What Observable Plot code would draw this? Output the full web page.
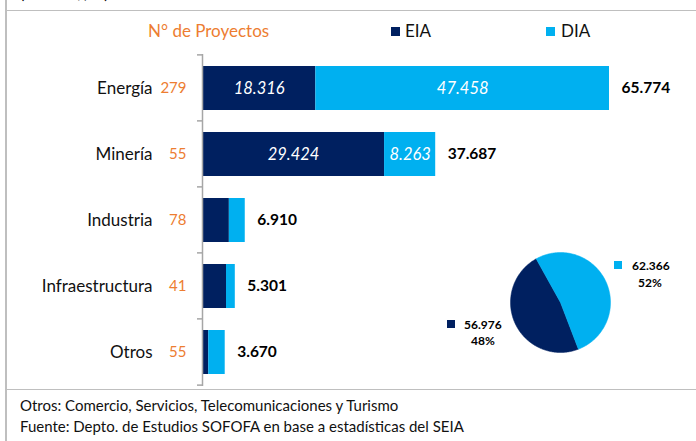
<!DOCTYPE html>
<html><head><meta charset="utf-8">
<script src="https://cdn.jsdelivr.net/npm/d3@7"></script>
<script src="https://cdn.jsdelivr.net/npm/@observablehq/plot@0.6"></script>
<style>
body{margin:0;background:#fff;}
#wrap{position:relative;width:696px;height:441px;overflow:hidden;font-family:Lato,sans-serif;background:#fff;color:#000;}
.abs{position:absolute;white-space:nowrap;}
.line{position:absolute;background:#bfbfbf;}
</style></head><body><div id="wrap"></div>
<script>
const categories = ["Energía", "Minería", "Industria", "Infraestructura", "Otros"];
const projectCounts = [279, 55, 78, 41, 55];
const eiaValues = [18316, 29424, 4340, 3880, 1016];
const diaValues = [47458, 8263, 2570, 1421, 2654];
const totalValues = [65774, 37687, 6910, 5301, 3670];
const seriesNames = ["EIA", "DIA"];
const pieValues = [56976, 62366];
const piePercents = ["48%", "52%"];
const labeledCategories = ["Energía", "Minería"];
const countLabel = "N° de Proyectos";
const unitLabel = "(MMUS$, %)";
const footnotes = ["Otros:  Comercio, Servicios, Telecomunicaciones y Turismo",
                   "Fuente: Depto. de Estudios SOFOFA en base a estadísticas del SEIA"];

const colors = ["#002060", "#00B0F0"];
const orange = "#ED7D31";
const locale = d3.formatLocale({decimal: ",", thousands: ".", grouping: [3], currency: ["$", ""]});
const fmt = locale.format(",d");

const wrap = document.getElementById("wrap");
function addDiv(cls, style, text) {
  const d = document.createElement("div");
  d.className = cls;
  Object.assign(d.style, style);
  if (text != null) d.textContent = text;
  wrap.appendChild(d);
  return d;
}

// frame lines
addDiv("line", {left: "5px", top: "0px", width: "1.5px", height: "441px"});
addDiv("line", {left: "5px", top: "9.5px", width: "691px", height: "1.5px"});
addDiv("line", {left: "5px", top: "388.5px", width: "691px", height: "1.5px"});
addDiv("abs", {left: "20px", top: "-15px", fontSize: "16px", lineHeight: "16px"}, unitLabel);

// main chart
const rows = categories.flatMap((c, i) => [
  {cat: c, type: seriesNames[0], value: eiaValues[i]},
  {cat: c, type: seriesNames[1], value: diaValues[i]}
]);
const W = 696, H = 390, mT = 54, mB = 4, mL = 202;
const chart = Plot.plot({
  width: W, height: H, marginLeft: mL, marginRight: 87, marginTop: mT, marginBottom: mB,
  style: {fontFamily: "Lato, sans-serif", fontSize: "15px", background: "transparent", overflow: "visible"},
  x: {domain: [0, d3.max(totalValues)], axis: null},
  y: {domain: categories, paddingInner: 0.337, paddingOuter: 0.1685, axis: null},
  color: {domain: seriesNames, range: colors},
  marks: [
    Plot.barX(rows, {y: "cat", x: "value", fill: "type", order: seriesNames}),
    Plot.text(rows, Plot.stackX({y: "cat", x: "value", z: "type", order: seriesNames,
      filter: d => labeledCategories.includes(d.cat),
      text: d => fmt(d.value), fill: "white", fontStyle: "italic", fontSize: 16.5})),
    Plot.text(categories, {y: d => d, x: 0, dx: -16, text: (d, i) => String(projectCounts[i]), fill: orange, textAnchor: "end", fontSize: 15}),
    Plot.text(categories, {y: d => d, x: 0, dx: -50, text: d => d, fill: "#111", textAnchor: "end", fontSize: 17}),
    Plot.text(categories, {y: d => d, x: (d, i) => totalValues[i], dx: 12, text: (d, i) => fmt(totalValues[i]), fontWeight: "bold", textAnchor: "start", fill: "#000", fontSize: 15.5}),
    Plot.ruleX([0], {stroke: "#a6a6a6", strokeWidth: 1.5}),
    (index, scales) => {
      const y = scales.y;
      const g = d3.create("svg:g").attr("stroke", "#a6a6a6").attr("stroke-width", 1.5);
      const half = y.step() * y.paddingInner() / 2;
      const bounds = categories.map(c => y(c) - half).concat([y(categories[categories.length - 1]) + y.bandwidth() + half]);
      for (const b of bounds) g.append("line").attr("x1", mL - 5).attr("x2", mL).attr("y1", b).attr("y2", b);
      return g.node();
    }
  ]
});
chart.style.position = "absolute";
chart.style.left = "0px";
chart.style.top = "0px";
wrap.appendChild(chart);

// legend
addDiv("abs", {left: "148px", top: "21px", fontSize: "17px", lineHeight: "20px", color: orange}, countLabel);
[[391, 405], [546, 561]].forEach(([sx, tx], k) => {
  addDiv("abs", {left: sx + "px", top: "27px", width: "9px", height: "9px", background: colors[k]});
  addDiv("abs", {left: tx + "px", top: "21px", fontSize: "17px", lineHeight: "20px", color: "#111"}, seriesNames[k]);
});

// pie
const a0 = 159 * Math.PI / 180;
const arcs = d3.pie().sort(null).startAngle(a0).endAngle(a0 + 2 * Math.PI)(pieValues);
const pieRows = arcs.flatMap((s, k) => {
  const pts = [{k, x: 0, y: 0}];
  const n = Math.ceil((s.endAngle - s.startAngle) / (Math.PI / 180));
  for (let j = 0; j <= n; j++) {
    const a = s.startAngle + (s.endAngle - s.startAngle) * j / n;
    pts.push({k, x: Math.sin(a), y: Math.cos(a)});
  }
  pts.push({k, x: 0, y: 0});
  return pts;
});
const piePlot = Plot.plot({
  width: 100, height: 100, margin: 0,
  style: {background: "transparent", overflow: "visible"},
  x: {domain: [-1, 1], axis: null},
  y: {domain: [-1, 1], axis: null},
  color: {domain: seriesNames, range: colors},
  marks: [Plot.line(pieRows, {x: "x", y: "y", z: "k", fill: d => seriesNames[d.k], stroke: d => seriesNames[d.k], strokeWidth: 0.5, curve: "linear"})]
});
piePlot.style.position = "absolute";
piePlot.style.left = "510px";
piePlot.style.top = "252px";
wrap.appendChild(piePlot);

// pie labels
const pieLab = [{sq: [447, 320], tx: 464, ty: 318, py: 334, pc: 483}, {sq: [614, 261], tx: 632, ty: 259, py: 276, pc: 650}];
pieLab.forEach((p, k) => {
  addDiv("abs", {left: p.sq[0] + "px", top: p.sq[1] + "px", width: "8px", height: "8px", background: colors[k]});
  addDiv("abs", {left: p.tx + "px", top: p.ty + "px", fontSize: "12px", lineHeight: "14px", fontWeight: "bold"}, fmt(pieValues[k]));
  addDiv("abs", {left: (p.pc - 30) + "px", width: "60px", textAlign: "center", top: p.py + "px", fontSize: "12px", lineHeight: "14px", fontWeight: "bold"}, piePercents[k]);
});

// footnotes
footnotes.forEach((t, i) => {
  addDiv("abs", {left: "20px", top: (395 + i * 21) + "px", fontSize: "15px", lineHeight: "20px", color: "#111"}, t);
});
</script></body></html>
